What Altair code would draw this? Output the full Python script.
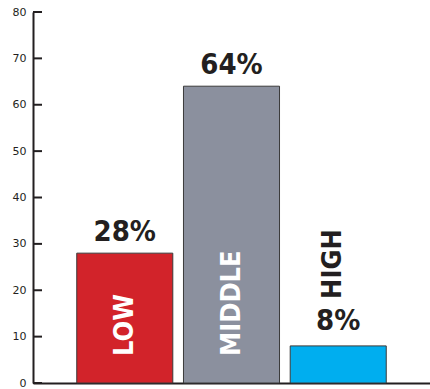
import altair as alt
import pandas as pd

# ---- data ----
categories = ["LOW", "MIDDLE", "HIGH"]
values = [28, 64, 8]
y_ticks = [0, 10, 20, 30, 40, 50, 60, 70, 80]

# ---- style ----
bar_colors = ["#D2232A", "#8B909E", "#00AEEF"]
ink = "#231f20"

df = pd.DataFrame({"category": categories, "value": values})
ticks_df = pd.DataFrame({"t": y_ticks})

W, H = 397, 371

x_enc = alt.X(
    "category:N",
    sort=categories,
    scale=alt.Scale(paddingInner=0.1, paddingOuter=0.41),
    axis=alt.Axis(title=None, labels=False, ticks=False, domainWidth=2,
                  domainColor=ink),
)
y_scale = alt.Scale(domain=[0, 80], nice=False, zero=True)

base = alt.Chart(df)

bars = base.mark_bar(stroke="#3a3a3a", strokeWidth=1).encode(
    x=x_enc,
    y=alt.Y("value:Q", scale=y_scale,
            axis=alt.Axis(title=None, values=y_ticks, ticks=False, grid=False,
                          domainWidth=2, domainColor=ink, labelColor=ink,
                          labelFont="DejaVu Sans", labelFontSize=11,
                          labelPadding=7)),
    color=alt.Color("category:N", sort=categories,
                    scale=alt.Scale(domain=categories, range=bar_colors),
                    legend=None),
)

tick_marks = alt.Chart(ticks_df).mark_rule(color=ink, strokeWidth=2).encode(
    y=alt.Y("t:Q", scale=y_scale),
    x=alt.value(0),
    x2=alt.value(9),
)

pct_font = dict(font="DejaVu Sans Condensed", fontWeight="bold", fontSize=29,
                color=ink, align="center", baseline="alphabetic")

pct_big = base.transform_filter("datum.value >= 20").transform_calculate(
    label="format(datum.value, 'd') + '%'"
).mark_text(dy=-12, **pct_font).encode(
    x=alt.X("category:N", sort=categories), y=alt.Y("value:Q", scale=y_scale),
    text="label:N")

pct_small = base.transform_filter("datum.value < 20").transform_calculate(
    label="format(datum.value, 'd') + '%'"
).mark_text(dy=-16, **pct_font).encode(
    x=alt.X("category:N", sort=categories), y=alt.Y("value:Q", scale=y_scale),
    text="label:N")

cat_font = dict(font="DejaVu Sans Condensed", fontWeight="bold", fontSize=27,
                angle=270, align="left", baseline="middle")

cat_inside = base.transform_filter("datum.value >= 20").mark_text(
    color="white", dx=27, **cat_font
).encode(
    x=alt.X("category:N", sort=categories),
    y=alt.datum(0, scale=y_scale),
    text="category:N",
)

cat_outside = base.transform_filter("datum.value < 20").mark_text(
    color=ink, dx=47, dy=-5, **cat_font
).encode(
    x=alt.X("category:N", sort=categories),
    y=alt.Y("value:Q", scale=y_scale),
    text="category:N",
)

chart = alt.layer(
    bars, tick_marks, pct_big, pct_small, cat_inside, cat_outside
).properties(
    width=W, height=H,
    autosize=alt.AutoSizeParams(type="none"),
    padding={"left": 33, "top": 12, "right": 0, "bottom": 6},
    background="white",
).configure_view(stroke=None)

chart.save("out.html", embed_options={"renderer": "svg", "actions": False})
